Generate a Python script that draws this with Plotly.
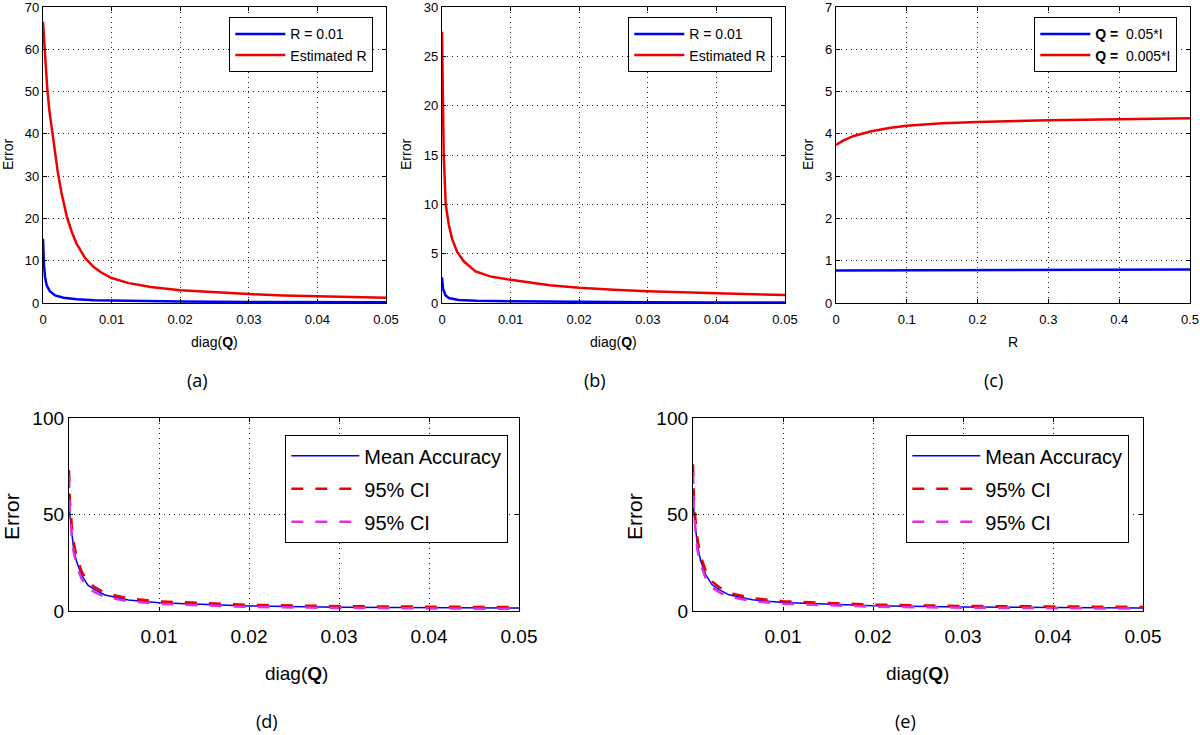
import plotly.graph_objects as go

W, H = 1200, 735

# ---------------- data ----------------
# (a)
a_red_x = [0, 0.0002, 0.0004, 0.00063, 0.00093, 0.00137, 0.00176, 0.00215, 0.0027, 0.00346, 0.0042, 0.0049,
           0.00615, 0.0074, 0.0085, 0.01, 0.0125, 0.0157, 0.02, 0.025, 0.03, 0.035, 0.04, 0.045, 0.05]
a_red_y = [66.5, 61, 55.5, 50.5, 45.5, 40, 35.5, 31, 26, 20.5, 16.8, 14.0,
           10.6, 8.5, 7.2, 5.9, 4.7, 3.8, 3.0, 2.5, 2.1, 1.8, 1.6, 1.4, 1.25]
a_blue_x = [0, 0.00005, 0.00015, 0.0003, 0.00054, 0.001, 0.00176, 0.003, 0.0049, 0.0075, 0.01, 0.0157, 0.02, 0.03, 0.04, 0.05]
a_blue_y = [15.2, 12, 8.9, 6.1, 4.2, 2.8, 1.8, 1.26, 0.87, 0.65, 0.55, 0.4, 0.33, 0.25, 0.2, 0.17]
# (b)
b_red_x = [0, 0.00005, 0.00015, 0.00025, 0.00054, 0.001, 0.00147, 0.0022, 0.0032, 0.0049, 0.007, 0.01,
           0.0157, 0.02, 0.025, 0.03, 0.04, 0.05]
b_red_y = [27.5, 24, 20, 15, 10, 7.9, 6.5, 5.2, 4.2, 3.2, 2.7, 2.35,
           1.8, 1.55, 1.35, 1.18, 0.98, 0.8]
b_blue_x = [0, 0.00005, 0.00015, 0.0005, 0.001, 0.0024, 0.005, 0.01, 0.02, 0.03, 0.04, 0.05]
b_blue_y = [2.6, 2.0, 1.45, 0.78, 0.5, 0.3, 0.22, 0.17, 0.1, 0.07, 0.06, 0.05]
# (c)
c_red_x = [0, 0.01, 0.025, 0.05, 0.075, 0.1, 0.15, 0.2, 0.3, 0.4, 0.5]
c_red_y = [3.74, 3.84, 3.95, 4.06, 4.14, 4.19, 4.25, 4.28, 4.32, 4.35, 4.37]
c_blue_x = [0, 0.1, 0.2, 0.3, 0.4, 0.5]
c_blue_y = [0.77, 0.775, 0.78, 0.785, 0.79, 0.79]
# (d)
d_x = [0, 0.0001, 0.0003, 0.0005, 0.00085, 0.0014, 0.0021, 0.0029, 0.004, 0.0066, 0.01, 0.016, 0.02, 0.03, 0.04, 0.05]
d_mean = [61, 50, 41, 33, 25.5, 18.6, 13.4, 10.9, 8.3, 5.7, 4.3, 3.1, 2.6, 2.0, 1.7, 1.5]
d_up = [73, 57, 45, 36, 28, 20.5, 15, 12.2, 9.3, 6.5, 5.0, 3.7, 3.2, 2.5, 2.2, 2.0]
d_lo = [70, 52, 39, 31, 23.5, 16.8, 11.9, 9.6, 7.3, 5.0, 3.7, 2.6, 2.1, 1.6, 1.3, 1.1]
# (e)
e_x = [0, 0.0001, 0.0003, 0.0005, 0.00085, 0.0014, 0.0021, 0.0029, 0.004, 0.0066, 0.01, 0.016, 0.02, 0.03, 0.04, 0.05]
e_mean = [63, 51, 42, 34, 26, 19, 13.7, 11.1, 8.4, 5.8, 4.4, 3.2, 2.7, 2.1, 1.8, 1.6]
e_up = [76, 59, 46, 37, 28.5, 21, 15.3, 12.4, 9.4, 6.6, 5.1, 3.8, 3.3, 2.6, 2.3, 2.1]
e_lo = [72, 53, 40, 31.5, 24, 17.2, 12.2, 9.8, 7.4, 5.1, 3.8, 2.7, 2.2, 1.7, 1.4, 1.2]

top_x_ticks = [0, 0.01, 0.02, 0.03, 0.04, 0.05]
top_x_text = ["0", "0.01", "0.02", "0.03", "0.04", "0.05"]
c_x_ticks = [0, 0.1, 0.2, 0.3, 0.4, 0.5]
c_x_text = ["0", "0.1", "0.2", "0.3", "0.4", "0.5"]
bot_x_ticks = [0.01, 0.02, 0.03, 0.04, 0.05]
bot_x_text = ["0.01", "0.02", "0.03", "0.04", "0.05"]
bot_y_ticks = [0, 50, 100]
bot_y_text = ["0", "50", "100"]

BLUE = "#0000f0"
RED = "#ee0000"
MAG = "#e030e0"

FONT = "Liberation Sans, Arial, Helvetica, sans-serif"
LBLFONT = "Open Sans, sans-serif"


def px_x(p):
    return p / W


def px_y(p):
    return 1 - p / H


fig = go.Figure()


def line(x, y, color, name, xa, ya, legend, group, width=2.5, dash="solid"):
    fig.add_trace(go.Scatter(x=x, y=y, mode="lines", name=name,
                             line=dict(color=color, width=width, dash=dash),
                             xaxis=xa, yaxis=ya, legend=legend, legendgroup=group,
                             hoverinfo="skip"))


DASH = "12px,12px"
line(a_blue_x, a_blue_y, BLUE, "R = 0.01", "x", "y", "legend", "a1")
line(a_red_x, a_red_y, RED, "Estimated R", "x", "y", "legend", "a2")
line(b_blue_x, b_blue_y, BLUE, "R = 0.01", "x2", "y2", "legend2", "b1")
line(b_red_x, b_red_y, RED, "Estimated R", "x2", "y2", "legend2", "b2")
line(c_blue_x, c_blue_y, BLUE, "<b>Q =</b>  0.05*I", "x3", "y3", "legend3", "c1")
line(c_red_x, c_red_y, RED, "<b>Q =</b>  0.005*I", "x3", "y3", "legend3", "c2")
line(d_x, d_mean, BLUE, "Mean Accuracy", "x4", "y4", "legend4", "d1", width=1.5)
line(d_x, d_up, RED, "95% CI", "x4", "y4", "legend4", "d2", width=2.5, dash=DASH)
line(d_x, d_lo, MAG, "95% CI", "x4", "y4", "legend4", "d3", width=2.5, dash=DASH)
line(e_x, e_mean, BLUE, "Mean Accuracy", "x5", "y5", "legend5", "e1", width=1.5)
line(e_x, e_up, RED, "95% CI", "x5", "y5", "legend5", "e2", width=2.5, dash=DASH)
line(e_x, e_lo, MAG, "95% CI", "x5", "y5", "legend5", "e3", width=2.5, dash=DASH)


def axis_common(size):
    return dict(showline=True, linecolor="black", linewidth=1.3, mirror="allticks",
                ticks="inside", ticklen=4, tickcolor="black", automargin=False,
                showgrid=True, gridcolor="#222", griddash="1px,4px", gridwidth=1,
                zeroline=False, tickfont=dict(size=size, family=FONT, color="black"),
                ticklabeloverflow="allow", fixedrange=True)


top_y = [px_y(303), px_y(7)]
bot_y = [px_y(611), px_y(418)]

lay = dict(width=W, height=H, margin=dict(l=0, r=0, t=0, b=0, autoexpand=False),
           paper_bgcolor="white", plot_bgcolor="white", showlegend=True)

lay["xaxis"] = dict(axis_common(13), domain=[px_x(43), px_x(386)], anchor="y",
                    range=[0, 0.05], tickvals=top_x_ticks, ticktext=top_x_text, ticklabelstandoff=4)
lay["yaxis"] = dict(axis_common(13), domain=top_y, anchor="x", range=[0, 70], dtick=10)
lay["xaxis2"] = dict(axis_common(13), domain=[px_x(442), px_x(785)], anchor="y2",
                     range=[0, 0.05], tickvals=top_x_ticks, ticktext=top_x_text, ticklabelstandoff=4)
lay["yaxis2"] = dict(axis_common(13), domain=top_y, anchor="x2", range=[0, 30], dtick=5)
lay["xaxis3"] = dict(axis_common(13), domain=[px_x(836), px_x(1190)], anchor="y3",
                     range=[0, 0.5], tickvals=c_x_ticks, ticktext=c_x_text, ticklabelstandoff=4)
lay["yaxis3"] = dict(axis_common(13), domain=top_y, anchor="x3", range=[0, 7], dtick=1)
lay["xaxis4"] = dict(axis_common(19), domain=[px_x(69), px_x(519)], anchor="y4",
                     range=[0, 0.05], tickvals=bot_x_ticks, ticktext=bot_x_text, ticklabelstandoff=8)
lay["yaxis4"] = dict(axis_common(19), domain=bot_y, anchor="x4", range=[0, 100],
                     tickvals=bot_y_ticks, ticktext=bot_y_text)
lay["xaxis5"] = dict(axis_common(19), domain=[px_x(693), px_x(1143)], anchor="y5",
                     range=[0, 0.05], tickvals=bot_x_ticks, ticktext=bot_x_text, ticklabelstandoff=8)
lay["yaxis5"] = dict(axis_common(19), domain=bot_y, anchor="x5", range=[0, 100],
                     tickvals=bot_y_ticks, ticktext=bot_y_text)


def legend(x_left, y_top, size, gap, iw):
    return dict(x=px_x(x_left), y=px_y(y_top), xanchor="left", yanchor="top",
                bgcolor="white", bordercolor="black", borderwidth=1.3,
                font=dict(size=size, family=FONT, color="black"),
                tracegroupgap=gap, itemwidth=iw, traceorder="grouped")


lay["legend"] = legend(229, 17, 14, 0, 50)
lay["legend2"] = legend(628, 17, 14, 0, 50)
lay["legend3"] = legend(1034, 17, 14, 0, 50)
lay["legend4"] = legend(285, 435, 20, 4, 68)
lay["legend5"] = legend(906, 435, 20, 4, 68)

fig.update_layout(**lay)

ann = []


def text(x, y, s, size, family, angle=0):
    ann.append(dict(x=px_x(x), y=px_y(y), xref="paper", yref="paper", text=s, showarrow=False,
                    font=dict(size=size, family=family, color="black"), textangle=angle,
                    xanchor="center", yanchor="middle"))


# axis titles top
text(214, 342, "diag(<b>Q</b>)", 14, FONT)
text(613, 342, "diag(<b>Q</b>)", 14, FONT)
text(1013, 342, "R", 14, FONT)
text(8, 155, "Error", 14, FONT, -90)
text(406, 155, "Error", 14, FONT, -90)
text(808, 155, "Error", 14, FONT, -90)
# axis titles bottom
text(296, 673, "diag(<b>Q</b>)", 19, FONT)
text(917, 673, "diag(<b>Q</b>)", 19, FONT)
text(11, 517, "Error", 21, FONT, -90)
text(634, 517, "Error", 21, FONT, -90)
# panel labels
text(197, 380, "(a)", 18, LBLFONT)
text(595, 380, "(b)", 18, LBLFONT)
text(993, 380, "(c)", 18, LBLFONT)
text(267, 721, "(d)", 18, LBLFONT)
text(905, 721, "(e)", 18, LBLFONT)

fig.update_layout(annotations=ann)
fig.write_html("out.html", config={"displayModeBar": False},
               post_script="document.body.style.margin='0';document.body.style.padding='0';"
                           "document.documentElement.style.overflow='hidden';")
